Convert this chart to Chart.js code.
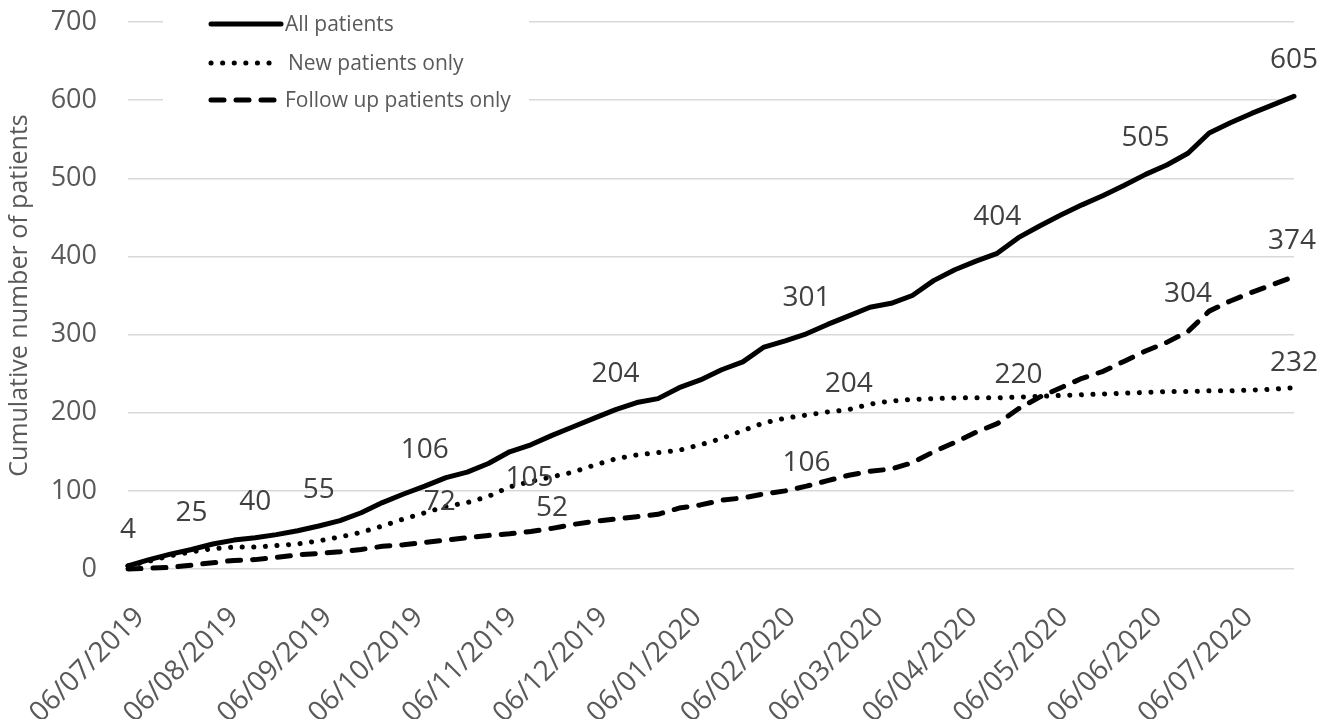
<!DOCTYPE html>
<html>
<head>
<meta charset="utf-8">
<script src="https://cdn.jsdelivr.net/npm/chart.js@4.4.1/dist/chart.umd.min.js"></script>
<style>
  html, body { margin: 0; padding: 0; background: #ffffff; }
  canvas { display: block; }
</style>
</head>
<body>
<canvas id="chart" width="1333" height="719"></canvas>
<script>
// Weekly clinic dates
const visitDates = [
  '2019-07-06','2019-07-13','2019-07-20','2019-07-27','2019-08-03','2019-08-10','2019-08-17','2019-08-24',
  '2019-08-31','2019-09-07','2019-09-14','2019-09-21','2019-09-28','2019-10-05','2019-10-12','2019-10-19',
  '2019-10-26','2019-11-02','2019-11-09','2019-11-16','2019-11-23','2019-11-30','2019-12-07','2019-12-14',
  '2019-12-21','2019-12-28','2020-01-04','2020-01-11','2020-01-18','2020-01-25','2020-02-01','2020-02-08',
  '2020-02-15','2020-02-22','2020-02-29','2020-03-07','2020-03-14','2020-03-21','2020-03-28','2020-04-04',
  '2020-04-11','2020-04-18','2020-04-25','2020-05-02','2020-05-09','2020-05-16','2020-05-23','2020-05-30',
  '2020-06-06','2020-06-13','2020-06-20','2020-06-27','2020-07-04','2020-07-11','2020-07-18','2020-07-25'
];

// Cumulative patient counts per week
const allPatients = [
  4, 12, 19, 25, 32, 37, 40, 44, 49, 55, 62, 72, 85, 96, 106, 117,
  124, 135, 150, 159, 171, 182, 193, 204, 213, 218, 232, 242, 255, 265, 284, 292,
  301, 313, 324, 335, 340, 350, 369, 383, 394, 404, 424, 439, 453, 466, 478, 491,
  505, 517, 532, 558, 571, 583, 594, 605
];
const newPatients = [
  4, 10, 17, 22, 26, 28, 28, 30, 32, 36, 41, 47, 55, 64, 72, 80,
  85, 93, 105, 112, 118, 124, 133, 141, 146, 149, 152, 159, 167, 177, 187, 193,
  197, 201, 204, 211, 215, 217, 218, 219, 219, 219, 220, 221, 222, 223, 224, 225,
  226, 227, 227, 228, 228, 229, 230, 232
];
const followUpPatients = [
  0, 1, 2, 5, 8, 11, 12, 15, 18, 20, 22, 25, 29, 31, 34, 37,
  40, 43, 45, 48, 52, 57, 61, 64, 67, 70, 78, 82, 88, 91, 96, 100,
  106, 113, 120, 125, 128, 136, 150, 162, 175, 186, 205, 220, 232, 244, 253, 266,
  279, 290, 304, 330, 343, 354, 364, 374
];

// Monthly axis labels
const monthTicks = [
  '06/07/2019','06/08/2019','06/09/2019','06/10/2019','06/11/2019','06/12/2019','06/01/2020',
  '06/02/2020','06/03/2020','06/04/2020','06/05/2020','06/06/2020','06/07/2020'
];

const seriesNames = ['All patients', 'New patients only', 'Follow up patients only'];

// Points that carry a value label: [dataset, point index]
const labelledPoints = [
  [0, 0], [0, 3], [0, 6], [0, 9], [0, 14], [0, 23], [0, 32], [0, 41], [0, 48], [0, 55],
  [1, 14], [1, 18], [1, 34], [1, 42], [1, 55],
  [2, 20], [2, 32], [2, 50], [2, 55]
];
// Offset of each value label from its point, same order as above
const labelOffsets = [
  [0, -36], [0, -36], [0, -36], [0, -36], [0, -36], [0, -36], [0, -36], [0, -36], [0, -36], [0, -36],
  [15, -11], [20, -9], [0, -26], [0, -22], [0, -25],
  [0, -20], [0, -23], [0, -37], [-2, -36]
];

const DAY = 86400000;
const origin = Date.parse(visitDates[0] + 'T00:00:00Z');
const isoDay = s => Math.round((Date.parse(s + 'T00:00:00Z') - origin) / DAY);
const dmyDay = s => {
  const [d, m, y] = s.split('/');
  return isoDay(`${y}-${m}-${d}`);
};
const tickDays = monthTicks.map(dmyDay);
const tickText = new Map(tickDays.map((d, i) => [d, monthTicks[i]]));
const xs = visitDates.map(isoDay);
const toPoints = arr => arr.map((v, i) => ({ x: xs[i], y: v }));

const GREY_TEXT = '#595959';
const FONT = '"Open Sans", "Noto Sans", sans-serif';

const overlay = {
  id: 'overlay',
  beforeDatasetsDraw(chart) {
    const ctx = chart.ctx;
    ctx.save();
    // legend panel sits over the top of the plot
    ctx.fillStyle = '#ffffff';
    ctx.fillRect(163, 0, 366, 122);
    const rows = [24, 63, 100];
    const styles = [[], [0.1, 11.5], [13, 12]];
    rows.forEach((y, i) => {
      ctx.beginPath();
      ctx.lineWidth = 5;
      ctx.lineCap = 'round';
      ctx.strokeStyle = '#000000';
      ctx.setLineDash(styles[i]);
      ctx.moveTo(211, y);
      ctx.lineTo(i === 0 ? 281 : 276, y);
      ctx.stroke();
      ctx.setLineDash([]);
      ctx.fillStyle = GREY_TEXT;
      ctx.font = '21px ' + FONT;
      ctx.textAlign = 'left';
      ctx.textBaseline = 'middle';
      ctx.fillText(seriesNames[i], i === 1 ? 288 : 285, y + 1);
    });
    ctx.restore();
  },
  afterDatasetsDraw(chart) {
    const ctx = chart.ctx;
    ctx.save();
    ctx.font = '28px ' + FONT;
    ctx.fillStyle = '#404040';
    ctx.textAlign = 'center';
    ctx.textBaseline = 'middle';
    labelledPoints.forEach(([ds, idx], n) => {
      const el = chart.getDatasetMeta(ds).data[idx];
      const value = chart.data.datasets[ds].data[idx].y;
      const [dx, dy] = labelOffsets[n];
      ctx.fillText(String(value), el.x + dx, el.y + dy);
    });
    ctx.restore();
  }
};

const lineBase = {
  borderColor: '#000000',
  borderWidth: 5,
  pointRadius: 0,
  pointHoverRadius: 0,
  tension: 0,
  fill: false,
  borderJoinStyle: 'round',
  borderCapStyle: 'round',
  clip: false
};

new Chart(document.getElementById('chart'), {
  type: 'line',
  data: {
    datasets: [
      Object.assign({}, lineBase, { label: seriesNames[0], data: toPoints(allPatients) }),
      Object.assign({}, lineBase, { label: seriesNames[1], data: toPoints(newPatients), borderDash: [0.1, 11.5] }),
      Object.assign({}, lineBase, { label: seriesNames[2], data: toPoints(followUpPatients), borderDash: [13, 12] })
    ]
  },
  options: {
    responsive: false,
    animation: false,
    devicePixelRatio: 1,
    layout: { padding: { top: 22, right: 39, left: 0, bottom: 0 } },
    plugins: { legend: { display: false }, tooltip: { enabled: false } },
    scales: {
      x: {
        type: 'linear',
        min: 0,
        max: xs[xs.length - 1],
        grid: { display: false },
        border: { display: false },
        afterBuildTicks: scale => { scale.ticks = tickDays.map(v => ({ value: v })); },
        afterFit: scale => {
          scale.height = 150;
          scale.paddingLeft = 0;
          scale.paddingRight = 0;
        },
        ticks: {
          autoSkip: false,
          minRotation: 45,
          maxRotation: 45,
          padding: 24,
          labelOffset: 12,
          color: GREY_TEXT,
          font: { family: FONT, size: 28 },
          callback: v => tickText.get(v) || ''
        }
      },
      y: {
        min: 0,
        max: 700,
        grid: { color: '#d9d9d9', lineWidth: 1.5, drawTicks: false },
        border: { display: false },
        afterFit: scale => {
          scale.width = 128;
          scale.paddingTop = 0;
          scale.paddingBottom = 0;
        },
        ticks: {
          stepSize: 100,
          padding: 31,
          color: GREY_TEXT,
          font: { family: FONT, size: 27 }
        },
        title: {
          display: true,
          text: 'Cumulative number of patients',
          color: GREY_TEXT,
          font: { family: FONT, size: 25 },
          padding: { top: 5, bottom: 0 }
        }
      }
    }
  },
  plugins: [overlay]
});
</script>
</body>
</html>
